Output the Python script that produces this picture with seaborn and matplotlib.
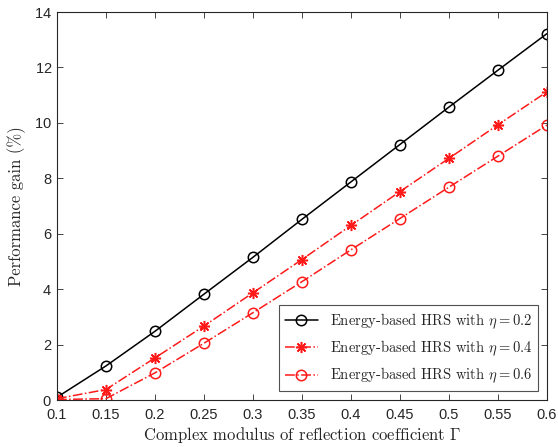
import numpy as np
import pandas as pd
import matplotlib
matplotlib.use('Agg')
import matplotlib.pyplot as plt
import seaborn as sns

# values
gamma = [0.1, 0.15, 0.2, 0.25, 0.3, 0.35, 0.4, 0.45, 0.5, 0.55, 0.6]
gain_eta02 = [0.1, 1.23, 2.48, 3.82, 5.15, 6.52, 7.87, 9.22, 10.57, 11.9, 13.22]
gain_eta04 = [0.05, 0.38, 1.52, 2.67, 3.87, 5.07, 6.3, 7.52, 8.72, 9.93, 11.12]
gain_eta06 = [0.02, 0.05, 0.98, 2.05, 3.15, 4.27, 5.42, 6.55, 7.68, 8.8, 9.92]
labels = [r'Energy-based HRS with $\eta = 0.2$',
          r'Energy-based HRS with $\eta = 0.4$',
          r'Energy-based HRS with $\eta = 0.6$']

sns.set_style('ticks')
plt.rcParams['font.family'] = ['Liberation Sans', 'DejaVu Sans']
plt.rcParams['mathtext.fontset'] = 'cm'
plt.rcParams['axes.formatter.use_mathtext'] = True

df = pd.DataFrame({'gamma': gamma * 3,
                   'gain': gain_eta02 + gain_eta04 + gain_eta06,
                   'series': [labels[0]] * 11 + [labels[1]] * 11 + [labels[2]] * 11})

fig = plt.figure(figsize=(5.58, 4.47), dpi=100)
ax = fig.add_axes([0.102, 0.105, 0.878, 0.868])

red = '#ff1a1a'
styles = [dict(color='black', linestyle='-', marker='o', markersize=7.5),
          dict(color=red, linestyle='-.', marker=(8, 2, 0), markersize=8),
          dict(color=red, linestyle='-.', marker='o', markersize=7.5)]

for lab, st in zip(labels, styles):
    sub = df[df.series == lab]
    sns.lineplot(data=sub, x='gamma', y='gain', ax=ax, label=lab,
                 color=st['color'], linestyle=st['linestyle'], marker=st['marker'],
                 markersize=st['markersize'], markerfacecolor='none',
                 markeredgecolor=st['color'], markeredgewidth=1.1, linewidth=1.1)

ax.set_xlim(0.1, 0.6)
ax.set_ylim(0, 14)
ax.set_xticks(gamma)
ax.set_xticklabels(['0.1', '0.15', '0.2', '0.25', '0.3', '0.35', '0.4', '0.45', '0.5', '0.55', '0.6'])
ax.set_yticks(range(0, 15, 2))
for s in ax.spines.values():
    s.set_visible(True)
    s.set_color('#262626')
    s.set_linewidth(0.8)
ax.tick_params(direction='in', length=4, width=0.6, colors='#262626',
               labelsize=10.5, top=True, right=True, labeltop=False, labelright=False)
ax.tick_params(axis='x', pad=6)
for t in ax.get_xticklabels() + ax.get_yticklabels():
    t.set_color('#262626')

ax.set_xlabel(r'Complex modulus of reflection coefficient $\Gamma$',
              fontname='cmr10', fontsize=12, color='#262626', labelpad=2)
ax.set_ylabel('Performance gain (%)', fontname='cmr10', fontsize=12, color='#262626', labelpad=6)

leg = ax.legend(loc='lower right', frameon=True, fancybox=False, edgecolor='#262626',
                prop={'family': 'cmr10', 'size': 10.5}, borderaxespad=0.6,
                handlelength=2.3, labelspacing=0.55, borderpad=0.4)
leg.get_frame().set_linewidth(0.8)

plt.savefig('out.png', dpi=100)
